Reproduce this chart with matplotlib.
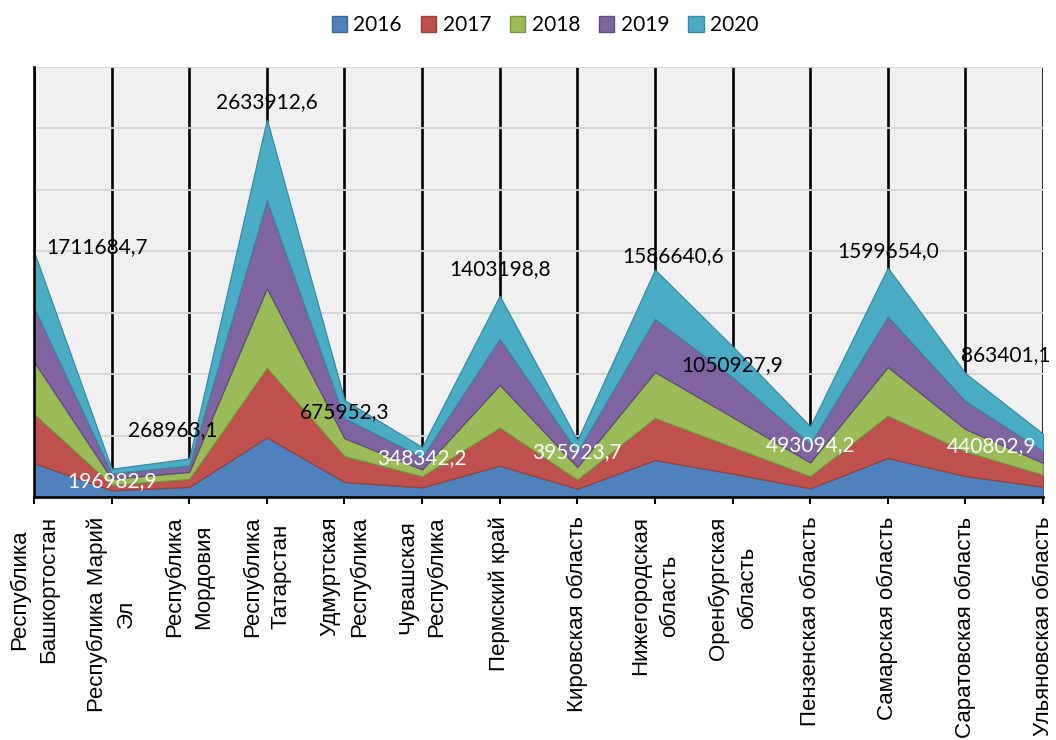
import matplotlib
matplotlib.use('Agg')
import matplotlib.pyplot as plt
import matplotlib.patches as mpatches
import numpy as np

regions = ['Республика\nБашкортостан', 'Республика Марий\nЭл', 'Республика\nМордовия',
           'Республика\nТатарстан', 'Удмуртская\nРеспублика', 'Чувашская\nРеспублика',
           'Пермский край', 'Кировская область', 'Нижегородская\nобласть',
           'Оренбургская\nобласть', 'Пензенская область', 'Самарская область',
           'Саратовская область', 'Ульяновская область']
years = ['2016', '2017', '2018', '2019', '2020']

# значения в тыс.
y2016 = [236.0, 47.0, 70.0, 415.9, 105.0, 67.0, 218.5, 58.0, 258.0, 163.0, 61.0, 272.0, 146.0, 71.4]
y2017 = [343.0, 38.5, 55.0, 485.2, 180.0, 77.0, 264.5, 63.0, 293.0, 185.0, 84.0, 295.0, 170.0, 83.6]
y2018 = [366.0, 42.8, 50.0, 554.5, 125.0, 49.0, 299.0, 88.0, 321.0, 209.0, 96.0, 340.0, 158.0, 83.6]
y2019 = [378.0, 36.4, 45.0, 612.7, 140.0, 85.0, 322.0, 105.0, 370.0, 279.0, 130.0, 352.0, 195.0, 83.0]
y2020 = [388.7, 32.3, 49.0, 565.6, 126.0, 70.3, 299.2, 81.9, 344.6, 214.9, 122.1, 340.7, 194.4, 119.2]

totals = ['1711684,7', '196982,9', '268963,1', '2633912,6', '675952,3', '348342,2',
          '1403198,8', '395923,7', '1586640,6', '1050927,9', '493094,2', '1599654,0',
          '863401,1', '440802,9']
white_idx = [1, 5, 7, 10, 13]

# смещения подписей (пиксели)
label_dx = [63, 0, -16, 0, 0, 0, 0, 0, 18, 0, 0, 0, 40, -51]
label_dy = [5, -12, 28, 17, -12, -11, 27, -12, 13, -19, -19, 17, 18, -12]

colors = ['#4F81BD', '#C0504D', '#9BBB59', '#8064A2', '#4BACC6']
edges = ['#3A6494', '#96403D', '#76933F', '#5E4A7C', '#3A8AA0']

series = [np.array(s) * 1000 for s in (y2016, y2017, y2018, y2019, y2020)]
x = np.arange(len(regions))

fig = plt.figure(figsize=(10.56, 7.40), dpi=100)
ax = fig.add_axes([0.0322, 0.3284, 0.9555, 0.5811])
ax.set_facecolor('#F0F0F0')

polys = ax.stackplot(x, *series, colors=colors, zorder=2)
for p, ec in zip(polys, edges):
    p.set_edgecolor(ec)
    p.set_linewidth(0.9)

ax.set_xlim(0, len(regions) - 1)
ax.set_ylim(0, 3e6)
ax.set_yticks(np.linspace(0, 3e6, 8))
ax.set_yticklabels([])
ax.tick_params(axis='y', length=0)
ax.yaxis.grid(True, color='#D4D4D4', lw=1.3, zorder=0)
ax.xaxis.grid(True, color='black', lw=1.9, zorder=1)
ax.set_axisbelow(True)

ax.set_xticks(x)
ax.set_xticklabels(regions, rotation=90, fontsize=16, family='Liberation Sans',
                   multialignment='center', linespacing=1.5)
ax.tick_params(axis='x', direction='out', length=5, width=1.5, color='black', pad=9)

for side in ['top', 'right']:
    ax.spines[side].set_visible(False)
ax.spines['left'].set_linewidth(1.9)
ax.spines['bottom'].set_linewidth(1.9)
ax.spines['left'].set_zorder(3)
ax.spines['bottom'].set_zorder(3)

tops = np.sum(series, axis=0)
for i, t in enumerate(totals):
    c = 'white' if i in white_idx else 'black'
    ax.annotate(t, (x[i], tops[i]), xytext=(label_dx[i], label_dy[i]),
                textcoords='offset pixels', ha='center', va='center',
                fontsize=15, family='Lato', color=c, zorder=5,
                annotation_clip=False)

handles = [mpatches.Patch(facecolor=c, edgecolor=e, label=y)
           for c, e, y in zip(colors, edges, years)]
fig.legend(handles=handles, loc='center', bbox_to_anchor=(0.516, 0.966), ncol=5,
           frameon=False, prop={'family': 'Lato', 'size': 15},
           handlelength=0.75, handleheight=0.75, handletextpad=0.3, columnspacing=0.9)

fig.savefig('out.png', dpi=100)
